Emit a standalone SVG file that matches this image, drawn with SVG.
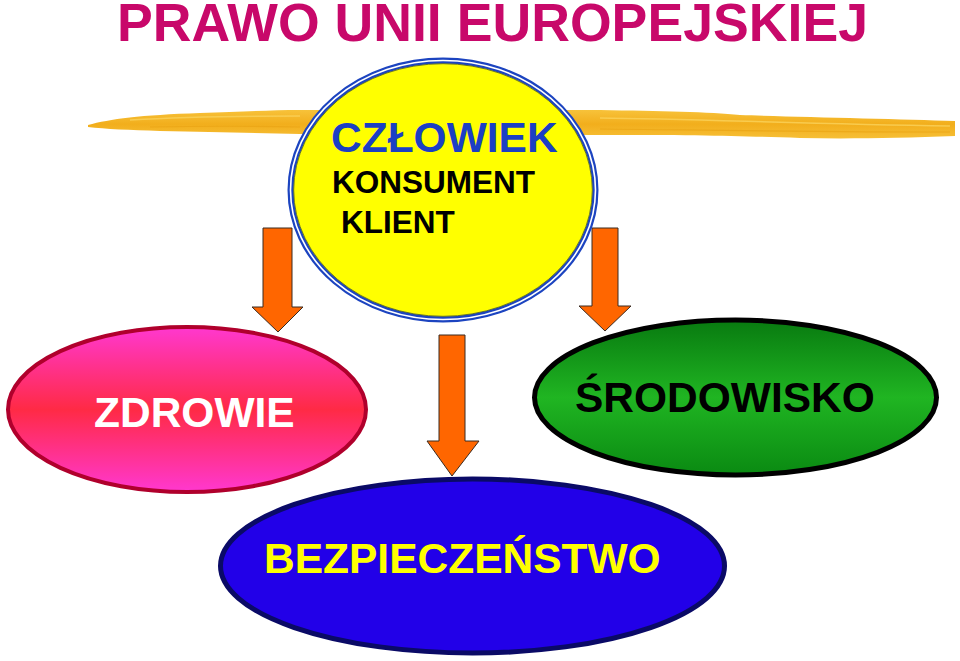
<svg xmlns="http://www.w3.org/2000/svg" width="960" height="661" viewBox="0 0 960 661">
  <defs>
    <linearGradient id="gPink" x1="0" y1="0" x2="0" y2="1">
      <stop offset="0" stop-color="#ff38d0"/>
      <stop offset="0.5" stop-color="#ff2a45"/>
      <stop offset="1" stop-color="#ff38d0"/>
    </linearGradient>
    <linearGradient id="gGreen" x1="0" y1="0" x2="0" y2="1">
      <stop offset="0" stop-color="#087a10"/>
      <stop offset="0.5" stop-color="#20b522"/>
      <stop offset="1" stop-color="#0a8a12"/>
    </linearGradient>
    <linearGradient id="gBrush" x1="0" y1="0" x2="0" y2="1">
      <stop offset="0" stop-color="#f7c23a"/>
      <stop offset="0.5" stop-color="#f2ae1c"/>
      <stop offset="1" stop-color="#f6bf36"/>
    </linearGradient>
  </defs>
  <style>
    text { font-family: "Liberation Sans", Arial, sans-serif; font-weight: bold; }
    .arrow { fill: #ff6600; stroke: #3a2a20; stroke-width: 1; stroke-linejoin: miter; }
    .lbl { font-size: 42.5px; }
  </style>
  <rect width="960" height="661" fill="#ffffff"/>

  <g id="title">
    <text x="117" y="41" font-size="53.5" fill="#c8086a" textLength="751" lengthAdjust="spacingAndGlyphs">PRAWO UNII EUROPEJSKIEJ</text>
  </g>

  <g id="brush">
    <path d="M88,125 C110,119 140,115 200,113 C240,112 270,110 300,110 L600,110 C660,111 710,112 740,115 C800,117 900,119 955,121 L955,136 C900,138 850,139 800,138 C740,136 700,135 600,135 L300,134 C250,133 210,132 160,131 C130,130 105,129 88,127 Z" fill="url(#gBrush)"/>
    <path d="M130,120 C180,117 240,116 300,116" stroke="#fad25a" stroke-width="1.5" fill="none" opacity="0.8"/>
    <path d="M150,127 C200,126 250,126 300,127" stroke="#e9a414" stroke-width="1.2" fill="none" opacity="0.7"/>
    <path d="M600,118 C700,119 800,124 950,126" stroke="#fad25a" stroke-width="1.5" fill="none" opacity="0.8"/>
    <path d="M600,129 C700,130 820,132 950,132" stroke="#e9a414" stroke-width="1.2" fill="none" opacity="0.7"/>
  </g>

  <g id="connectors">
    <path class="arrow" d="M263,228 H292 V307 H303 L278,332 L252,307 H263 Z"/>
    <path class="arrow" d="M439,335 H465 V441 H479 L452,476 L427,441 H439 Z"/>
    <path class="arrow" d="M592,228 H618 V306 H631 L605,331 L579,306 H592 Z"/>
  </g>

  <g id="czlowiek">
    <ellipse cx="443" cy="190" rx="152.5" ry="129.5" fill="#ffff00" stroke="#1c44c0" stroke-width="6"/>
    <ellipse cx="443" cy="190" rx="152.5" ry="129.5" fill="none" stroke="#ffffff" stroke-width="1.6"/>
    <ellipse cx="443" cy="190" rx="149.3" ry="126.3" fill="none" stroke="#4a5a30" stroke-width="0.8"/>
    <text x="331" y="152" font-size="42.5" fill="#1b3fc4">CZŁOWIEK</text>
    <text x="332" y="193" font-size="31.5" fill="#000000">KONSUMENT</text>
    <text x="341" y="233" font-size="31.5" fill="#000000">KLIENT</text>
  </g>

  <g id="zdrowie">
    <ellipse cx="187" cy="409.5" rx="179" ry="82.5" fill="url(#gPink)" stroke="#b0002c" stroke-width="4"/>
    <text class="lbl" x="94" y="427" fill="#ffffff">ZDROWIE</text>
  </g>

  <g id="srodowisko">
    <ellipse cx="735.5" cy="397.5" rx="201" ry="77.5" fill="url(#gGreen)" stroke="#000000" stroke-width="5"/>
    <text class="lbl" x="575" y="412" fill="#000000">ŚRODOWISKO</text>
  </g>

  <g id="bezpieczenstwo">
    <ellipse cx="472.5" cy="566" rx="252" ry="87" fill="#2200e8" stroke="#0a0a66" stroke-width="5"/>
    <text class="lbl" x="264" y="573" fill="#ffff00">BEZPIECZEŃSTWO</text>
  </g>
</svg>
